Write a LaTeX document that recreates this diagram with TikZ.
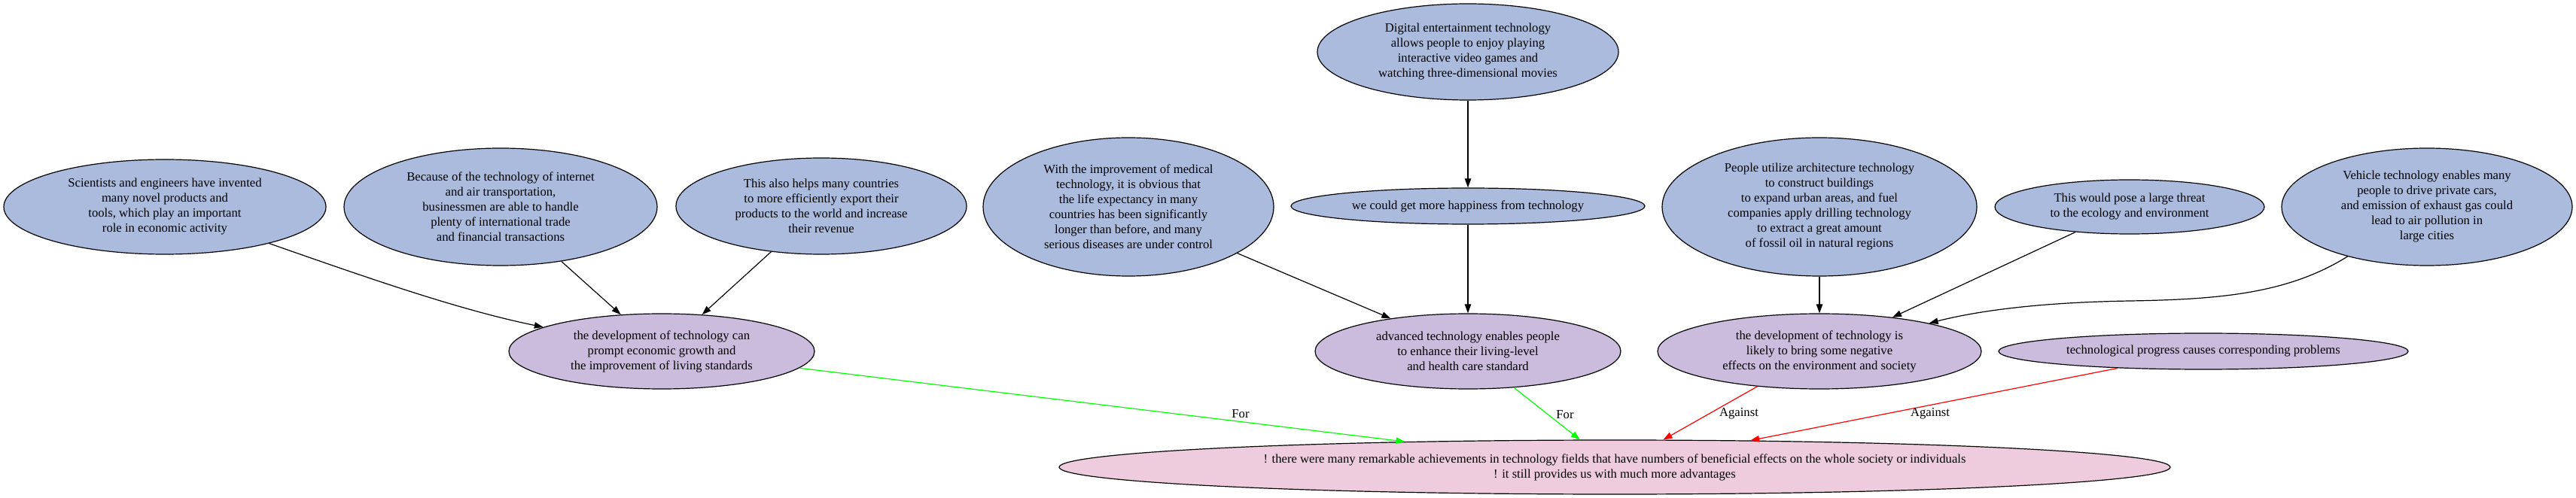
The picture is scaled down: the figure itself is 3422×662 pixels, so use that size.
\documentclass[tikz,border=0pt]{standalone}
\usepackage{fontspec}
\setmainfont{Liberation Serif}
\usetikzlibrary{shapes.geometric,arrows.meta}
\definecolor{premblue}{HTML}{AABBDD}
\definecolor{claimpurple}{HTML}{CBBBDD}
\definecolor{conclpink}{HTML}{EECCDD}
\definecolor{progreen}{HTML}{00FF00}
\definecolor{conred}{HTML}{FF0000}
\begin{document}
\begin{tikzpicture}[x=0.5pt,y=-0.5pt,
  base/.style={ellipse,draw=black,line width=0.6pt,inner sep=0pt,align=center,
    font=\fontsize{8.33}{10}\selectfont},
  prem/.style={base,fill=premblue},
  claim/.style={base,fill=claimpurple},
  concl/.style={base,fill=conclpink},
  sz/.style 2 args={minimum width=#1pt,minimum height=#2pt},
  arr/.style={line width=0.6pt,-{Triangle[length=6pt,width=4.2pt]}},
  pro/.style={arr,color=progreen},
  con/.style={arr,color=conred},
  lbl/.style={inner sep=0pt,font=\fontsize{8.33}{10}\selectfont}]
\useasboundingbox (0,0) rectangle (3422,662);
\node[prem,sz={214}{63}] (n1) at (219,275) {Scientists and engineers have invented\\many novel products and\\tools, which play an important\\role in economic activity};
\node[prem,sz={208}{78}] (n2) at (665,275) {Because of the technology of internet\\and air transportation,\\businessmen are able to handle\\plenty of international trade\\and financial transactions};
\node[prem,sz={193}{64}] (n3) at (1091,274) {This also helps many countries\\to more efficiently export their\\products to the world and increase\\their revenue};
\node[prem,sz={193}{92}] (nm) at (1499,275) {With the improvement of medical\\technology, it is obvious that\\the life expectancy in many\\countries has been significantly\\longer than before, and many\\serious diseases are under control};
\node[prem,sz={200}{64}] (nd) at (1950,69) {Digital entertainment technology\\allows people to enjoy playing\\interactive video games and\\watching three-dimensional movies};
\node[prem,sz={235}{24}] (nh) at (1950,274) {we could get more happiness from technology};
\node[prem,sz={209}{92}] (na) at (2417,275) {People utilize architecture technology\\to construct buildings\\to expand urban areas, and fuel\\companies apply drilling technology\\to extract a great amount\\of fossil oil in natural regions};
\node[prem,sz={179}{36}] (nt) at (2829,275) {This would pose a large threat\\to the ecology and environment};
\node[prem,sz={193}{78}] (nv) at (3224,275) {Vehicle technology enables many\\people to drive private cars,\\and emission of exhaust gas could\\lead to air pollution in\\large cities};
\node[claim,sz={203}{50}] (e1) at (879,467) {the development of technology can\\prompt economic growth and\\the improvement of living standards};
\node[claim,sz={203}{50}] (e2) at (1950,467) {advanced technology enables people\\to enhance their living-level\\and health care standard};
\node[claim,sz={215}{50}] (e3) at (2417,467) {the development of technology is\\likely to bring some negative\\effects on the environment and society};
\node[claim,sz={272}{24}] (e4) at (2927,467) {technological progress causes corresponding problems};
\node[concl,sz={738}{36}] (c) at (2145,621) {! there were many remarkable achievements in technology fields that have numbers of beneficial effects on the whole society or individuals\\! it still provides us with much more advantages};
\coordinate (bend) at (2830,400);
\draw[arr] (n1) .. controls (490,370) and (610,412) .. (e1);
\draw[arr] (n2) -- (e1);
\draw[arr] (n3) -- (e1);
\draw[arr] (nm) -- (e2);
\draw[arr] (nd) -- (nh);
\draw[arr] (nh) -- (e2);
\draw[arr] (na) -- (e3);
\draw[arr] (nt) -- (e3);
\draw[arr] (nv) .. controls (3040,390) and (2950,398) .. (bend) .. controls (2700,402) and (2620,415) .. (e3);
\draw[pro] (e1) -- (c);
\draw[pro] (e2) -- (c);
\draw[con] (e3) -- (c);
\draw[con] (e4) -- (c);
\node[lbl] (l1) at (1648,550) {For};
\node[lbl] (l2) at (2079,551) {For};
\node[lbl] (l3) at (2310,550) {Against};
\node[lbl] (l4) at (2564,550) {Against};
\end{tikzpicture}
\end{document}
